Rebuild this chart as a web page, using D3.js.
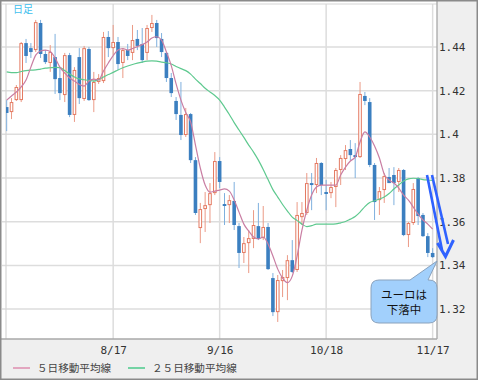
<!DOCTYPE html>
<html><head><meta charset="utf-8">
<script src="https://cdn.jsdelivr.net/npm/d3@7"></script>
<style>body{margin:0;background:#fff}svg{display:block}</style>
</head><body>
<svg id="c" width="478" height="380"></svg>
<script>
// ---- data (EUR/USD daily) ----
const open=[1.4125,1.4102,1.4157,1.4157,1.4418,1.4395,1.4386,1.4510,1.4368,1.4327,
1.4354,1.4258,1.4180,1.4363,1.4089,1.4354,1.4162,1.4391,1.4157,1.4240,
1.4244,1.4446,1.4395,1.4423,1.4327,1.4386,1.4373,1.4437,1.4414,1.4373,
1.4487,1.4510,1.4437,1.4373,1.4258,1.4153,1.4089,1.3997,1.4093,1.3882,
1.3571,1.3658,1.3676,1.3731,1.3878,1.3681,1.3676,1.3695,1.3580,1.3457,
1.3502,1.3521,1.3580,1.3525,1.3576,1.3342,1.3186,1.3328,1.3342,1.3424,
1.3379,1.3621,1.3640,1.3777,1.3768,1.3869,1.3736,1.3731,1.3759,1.3837,
1.3887,1.3933,1.3905,1.3896,1.4176,1.4148,1.3860,1.3699,1.3745,1.3805,
1.3814,1.3782,1.3837,1.3539,1.3594,1.3800,1.3631,1.3534,1.3457];
const high=[1.4157,1.4166,1.4226,1.4423,1.4437,1.4418,1.4524,1.4524,1.4386,1.4409,
1.4460,1.4304,1.4373,1.4373,1.4308,1.4395,1.4405,1.4400,1.4286,1.4276,
1.4469,1.4473,1.4501,1.4446,1.4395,1.4414,1.4501,1.4478,1.4487,1.4501,
1.4547,1.4524,1.4464,1.4377,1.4281,1.4171,1.4240,1.4121,1.4098,1.3896,
1.3686,1.3736,1.3777,1.3919,1.3896,1.3731,1.3722,1.3782,1.3594,1.3530,
1.3562,1.3653,1.3686,1.3672,1.3594,1.3365,1.3356,1.3379,1.3447,1.3516,
1.3690,1.3690,1.3823,1.3823,1.3892,1.3873,1.3791,1.3782,1.3846,1.3905,
1.3951,1.3974,1.3960,1.4240,1.4194,1.4166,1.3869,1.3759,1.3823,1.3846,
1.3850,1.3846,1.3841,1.3599,1.3777,1.3805,1.3640,1.3548,1.3479];
const low=[1.4015,1.4070,1.4153,1.4148,1.4327,1.4350,1.4377,1.4350,1.4322,1.4286,
1.4185,1.4157,1.4148,1.4079,1.4057,1.4139,1.4153,1.4153,1.4102,1.4231,
1.4235,1.4354,1.4363,1.4295,1.4258,1.4340,1.4340,1.4386,1.4327,1.4340,
1.4469,1.4400,1.4354,1.4240,1.4171,1.4066,1.3974,1.3988,1.3869,1.3631,
1.3502,1.3553,1.3594,1.3722,1.3754,1.3585,1.3594,1.3562,1.3388,1.3411,
1.3365,1.3479,1.3516,1.3516,1.3379,1.3168,1.3141,1.3255,1.3241,1.3365,
1.3370,1.3585,1.3631,1.3653,1.3731,1.3722,1.3653,1.3708,1.3667,1.3768,
1.3837,1.3882,1.3800,1.3892,1.4134,1.3850,1.3608,1.3631,1.3686,1.3777,
1.3676,1.3736,1.3534,1.3484,1.3585,1.3585,1.3530,1.3438,1.3434];
const close=[1.4098,1.4148,1.4217,1.4418,1.4359,1.4377,1.4514,1.4368,1.4331,1.4377,
1.4253,1.4189,1.4363,1.4089,1.4295,1.4166,1.4395,1.4157,1.4240,1.4258,
1.4446,1.4395,1.4423,1.4322,1.4386,1.4359,1.4432,1.4405,1.4340,1.4487,
1.4510,1.4441,1.4377,1.4258,1.4189,1.4093,1.3997,1.4093,1.3882,1.3640,
1.3658,1.3676,1.3731,1.3878,1.3782,1.3672,1.3699,1.3585,1.3457,1.3502,
1.3525,1.3585,1.3521,1.3576,1.3383,1.3186,1.3333,1.3347,1.3424,1.3370,
1.3631,1.3640,1.3777,1.3768,1.3869,1.3768,1.3727,1.3759,1.3837,1.3892,
1.3928,1.3905,1.3896,1.4185,1.4153,1.3860,1.3690,1.3740,1.3809,1.3777,
1.3777,1.3837,1.3539,1.3594,1.3750,1.3626,1.3534,1.3457,1.3438];
const ma5=[1.4157,1.4176,1.4194,1.4217,1.4249,1.4308,1.4363,1.4382,1.4386,1.4379,
1.4350,1.4308,1.4281,1.4258,1.4244,1.4228,1.4221,1.4244,1.4253,1.4249,
1.4290,1.4327,1.4361,1.4386,1.4393,1.4386,1.4393,1.4402,1.4411,1.4423,
1.4441,1.4447,1.4432,1.4377,1.4315,1.4231,1.4157,1.4100,1.4057,1.3951,
1.3846,1.3768,1.3736,1.3740,1.3745,1.3750,1.3740,1.3699,1.3644,1.3589,
1.3557,1.3530,1.3521,1.3530,1.3498,1.3443,1.3383,1.3342,1.3321,1.3351,
1.3443,1.3562,1.3653,1.3722,1.3759,1.3768,1.3768,1.3768,1.3768,1.3814,
1.3850,1.3878,1.3896,1.3965,1.4011,1.3988,1.3947,1.3892,1.3818,1.3791,
1.3777,1.3754,1.3722,1.3699,1.3667,1.3635,1.3608,1.3589,1.3566];
const ma25=[1.4286,1.4283,1.4283,1.4288,1.4292,1.4294,1.4295,1.4299,1.4303,1.4305,
1.4307,1.4306,1.4292,1.4276,1.4263,1.4254,1.4250,1.4247,1.4244,1.4251,
1.4263,1.4274,1.4284,1.4295,1.4305,1.4313,1.4320,1.4326,1.4331,1.4335,
1.4337,1.4335,1.4331,1.4328,1.4322,1.4311,1.4301,1.4292,1.4276,1.4253,
1.4233,1.4211,1.4194,1.4178,1.4157,1.4125,1.4091,1.4054,1.4020,1.3986,
1.3951,1.3919,1.3882,1.3839,1.3793,1.3747,1.3713,1.3679,1.3649,1.3621,
1.3605,1.3589,1.3578,1.3582,1.3589,1.3589,1.3589,1.3589,1.3590,1.3595,
1.3601,1.3612,1.3624,1.3644,1.3669,1.3688,1.3696,1.3704,1.3713,1.3729,
1.3750,1.3768,1.3786,1.3796,1.3799,1.3798,1.3793,1.3791,1.3789];
const xTickIdx=[22,44,66,88];
const xTickLabels=["8/17","9/16","10/18","11/17"];
const yTicks=[1.44,1.42,1.40,1.38,1.36,1.34,1.32];
const yTickLabels=["1.44","1.42","1.4","1.38","1.36","1.34","1.32"];
const seriesNames=["５日移動平均線","２５日移動平均線"];

// ---- layout ----
const W=478,H=380;
const P={l:6,t:4,r:437,b:339};
const svg=d3.select('#c');
svg.append('rect').attr('width',W).attr('height',H).attr('fill','#efefef');
svg.append('rect').attr('x',1).attr('y',1).attr('width',P.r-1).attr('height',P.b-1).attr('fill','#fff');

const x=d3.scaleLinear().domain([-0.14,88.9]).range([P.l,P.r]);
const y=d3.scaleLinear().domain([1.3063,1.4597]).range([P.b,P.t]);

// grid
svg.append('g').selectAll('line').data(yTicks).join('line')
  .attr('x1',2).attr('x2',P.r).attr('y1',d=>y(d)).attr('y2',d=>y(d))
  .attr('stroke','#dddddd').attr('stroke-width',1.5);
svg.append('g').selectAll('line').data(xTickIdx).join('line')
  .attr('x1',d=>x(d)).attr('x2',d=>x(d)).attr('y1',P.t).attr('y2',P.b)
  .attr('stroke','#dddddd').attr('stroke-width',1.5);
// plot borders
svg.append('line').attr('x1',P.l).attr('x2',P.l).attr('y1',P.t).attr('y2',P.b).attr('stroke','#d6d6d6').attr('stroke-width',1.2);
svg.append('line').attr('x1',2).attr('x2',P.r).attr('y1',P.t).attr('y2',P.t).attr('stroke','#d6d6d6').attr('stroke-width',1.2);

// clip
svg.append('clipPath').attr('id','clip').append('rect')
  .attr('x',P.l).attr('y',P.t).attr('width',P.r-P.l).attr('height',P.b-P.t);
const g=svg.append('g').attr('clip-path','url(#clip)');

const idx=d3.range(open.length);
const up=i=>close[i]>=open[i];
const bw=3.6;
// wicks
g.append('g').selectAll('line').data(idx).join('line')
  .attr('x1',i=>x(i)).attr('x2',i=>x(i))
  .attr('y1',i=>y(high[i])).attr('y2',i=>y(low[i]))
  .attr('stroke',i=>up(i)?'#eb9a86':'#7fb0de').attr('stroke-width',1);
// bodies
g.append('g').selectAll('rect').data(idx).join('rect')
  .attr('x',i=>up(i)?x(i)-bw/2+0.5:x(i)-bw/2)
  .attr('y',i=>y(Math.max(open[i],close[i]))+(up(i)?0.5:0))
  .attr('width',i=>up(i)?bw-1:bw)
  .attr('height',i=>Math.max(1,Math.abs(y(open[i])-y(close[i]))-(up(i)?1:0)))
  .attr('fill',i=>up(i)?'#fff':'#3b7fc0')
  .attr('stroke',i=>up(i)?'#e47a62':'none').attr('stroke-width',1);

// moving averages
const line=arr=>d3.line().x((d,i)=>x(i)).y(d=>y(d)).curve(d3.curveMonotoneX)(arr);
g.append('path').attr('d',line(ma25)).attr('fill','none').attr('stroke','#5ec98f').attr('stroke-width',1.2);
g.append('path').attr('d',line(ma5)).attr('fill','none').attr('stroke','#c97ea3').attr('stroke-width',1.2);

// right/bottom frame lines
svg.append('line').attr('x1',P.r).attr('x2',P.r).attr('y1',1).attr('y2',P.b).attr('stroke','#a8a8a8').attr('stroke-width',1.3);
svg.append('line').attr('x1',1).attr('x2',P.r).attr('y1',P.b).attr('y2',P.b).attr('stroke','#a8a8a8').attr('stroke-width',1.3);

// axes
const yAx=svg.append('g').attr('transform',`translate(${P.r},0)`)
  .call(d3.axisRight(y).tickValues(yTicks).tickFormat((d,i)=>yTickLabels[i]).tickSize(0).tickPadding(2));
yAx.select('.domain').remove();
yAx.selectAll('text').attr('font-family','"DejaVu Sans Mono",monospace').attr('font-size',11).attr('fill','#333');
const xAx=svg.append('g').attr('transform',`translate(0,${P.b})`)
  .call(d3.axisBottom(x).tickValues(xTickIdx).tickFormat((d,i)=>xTickLabels[i]).tickSize(0).tickPadding(7));
xAx.select('.domain').remove();
xAx.selectAll('text').attr('font-family','"DejaVu Sans Mono",monospace').attr('font-size',11).attr('fill','#333');

// label top-left
svg.append('text').attr('x',13).attr('y',13).text('日足')
  .attr('font-family','"Noto Sans CJK JP",sans-serif').attr('font-size',10).attr('fill','#3fc0ee');

// legend
const lg=[{x:13,c:'#e2a6bf'},{x:128,c:'#74d3a4'}];
lg.forEach((l,i)=>{
  svg.append('line').attr('x1',l.x).attr('x2',l.x+17).attr('y1',368).attr('y2',368).attr('stroke',l.c).attr('stroke-width',2);
  svg.append('text').attr('x',l.x+24).attr('y',372).text(seriesNames[i])
    .attr('font-family','"Noto Sans CJK JP",sans-serif').attr('font-size',10.6).attr('fill','#444');
});

// blue arrow annotation
const ac='#2f62ff';
svg.append('line').attr('x1',427).attr('y1',175).attr('x2',442).attr('y2',250).attr('stroke',ac).attr('stroke-width',2.6);
svg.append('line').attr('x1',432).attr('y1',175).attr('x2',448).attr('y2',244).attr('stroke',ac).attr('stroke-width',2.6);
svg.append('path').attr('d','M437.5,243 L445.5,256.5 L453.5,240').attr('fill','none').attr('stroke',ac).attr('stroke-width',3).attr('stroke-linejoin','miter');

// callout
svg.append('path')
  .attr('d','M379,280 L410,280 L437,261 L428,280 L429,280 Q437,280 437,288 L437,315 Q437,323 429,323 L379,323 Q371,323 371,315 L371,288 Q371,280 379,280 Z')
  .attr('fill','#a2d0fc').attr('stroke','#8aa2bc').attr('stroke-width',1);
['ユーロは','下落中'].forEach((t,i)=>{
  svg.append('text').attr('x',404).attr('y',299+i*15).attr('text-anchor','middle').text(t)
    .attr('font-family','"Noto Sans CJK JP",sans-serif').attr('font-size',11.5).attr('fill','#111');
});

// outer border
svg.append('rect').attr('x',0.75).attr('y',0.75).attr('width',W-1.5).attr('height',H-1.5)
  .attr('fill','none').attr('stroke','#8a8a8a').attr('stroke-width',1.5);
</script>
</body></html>
